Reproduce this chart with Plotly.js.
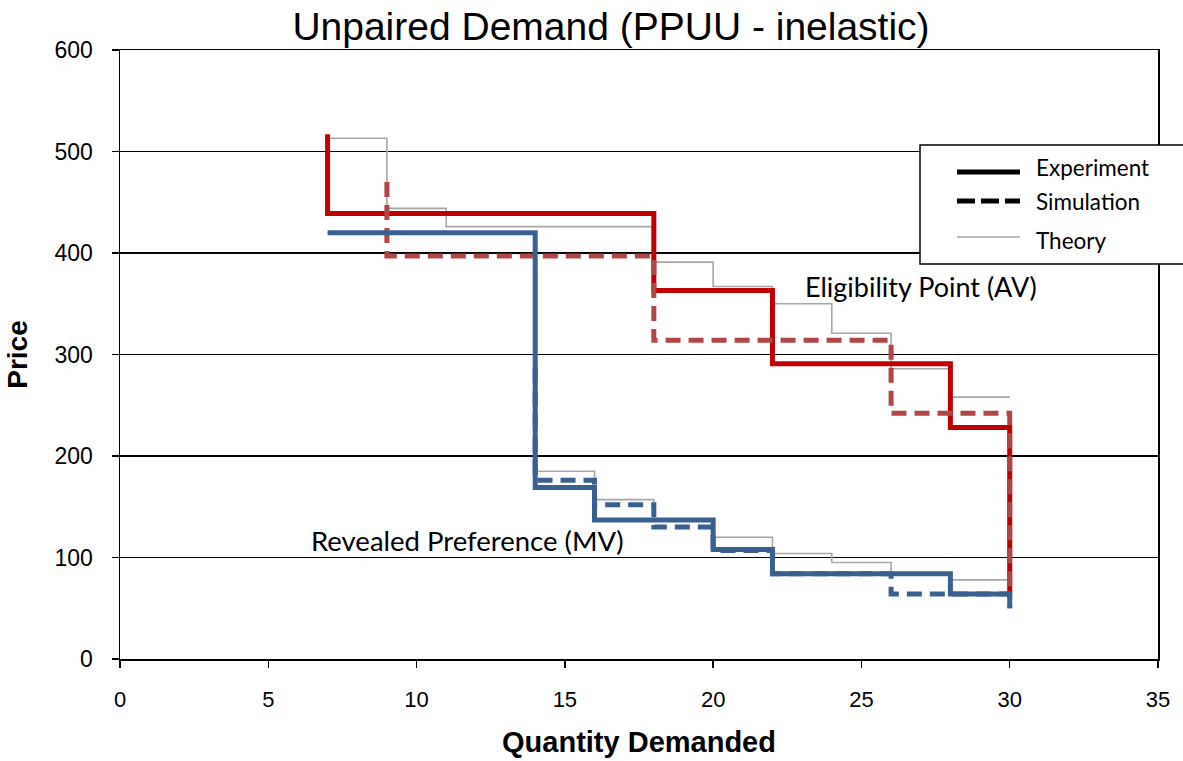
<!DOCTYPE html>
<html>
<head>
<meta charset="utf-8">
<script src="https://cdn.plot.ly/plotly-3.0.1.min.js"></script>
<style>html,body{margin:0;padding:0;background:#fff;}#chart{width:1183px;height:761px;}</style>
</head>
<body>
<div id="chart"></div>
<script>
// ---- Data ----
// Eligibility Point (AV)
const qAVTheory = [7, 9, 11, 18, 20, 22, 24, 26, 28, 30];
const pAVTheory = [513, 444, 426, 391, 367, 350, 321, 286, 258, 258];
const qAVExp = [7, 7, 18, 22, 28, 30, 30];
const pAVExp = [517, 439, 363, 291, 228, 228, 66];
const qAVSim = [9, 9, 18, 26, 30, 30];
const pAVSim = [470, 397, 314, 242, 242, 66];
// Revealed Preference (MV)
const qMVTheory = [7, 14, 16, 18, 20, 22, 24, 26, 28, 30];
const pMVTheory = [420, 185, 157, 137, 120, 104, 95, 84, 78, 78];
const qMVExp = [7, 14, 16, 20, 22, 28, 30, 30];
const pMVExp = [420, 169, 137, 108, 84, 64, 64, 50];
const qMVSim = [14, 14, 16, 18, 20, 22, 26, 30, 30];
const pMVSim = [287, 176, 152, 130, 107, 84, 64, 64, 50];

const legendLabels = ['Experiment', 'Simulation', 'Theory'];
const xTicks = [0, 5, 10, 15, 20, 25, 30, 35];
const yTicks = [0, 100, 200, 300, 400, 500, 600];

// ---- Styles ----
const RED = '#c00000', RED_SIM = '#b24646', BLUE = '#386192', GRAY = '#a6a6a6';
const DASH = '15px,8px';
const ARIAL = 'Liberation Sans, Arial, sans-serif';
const CAL = 'Lato, Carlito, Calibri, sans-serif';

const W = 1183, H = 761, ML = 120, MR = 25, MT = 50, MB = 102;
const PW = W - ML - MR, PH = H - MT - MB;
const px = x => (x - ML) / PW;
const py = y => (H - MB - y) / PH;

function step(x, y, color, width, dash) {
  return {x: x, y: y, type: 'scatter', mode: 'lines', line: {shape: 'hv', color: color, width: width, dash: dash || 'solid'},
          hoverinfo: 'skip', showlegend: false};
}

const traces = [
  step(qAVTheory, pAVTheory, GRAY, 1.6),
  step(qMVTheory, pMVTheory, GRAY, 1.6),
  step(qAVExp, pAVExp, RED, 5),
  step(qAVSim, pAVSim, RED_SIM, 5, DASH),
  step(qMVExp, pMVExp, BLUE, 5),
  step(qMVSim, pMVSim, BLUE, 5, DASH)
];

// custom legend box
const legY = [172, 201, 237];
const legTextY = [167, 201, 241];
const shapes = [
  {type: 'rect', xref: 'paper', yref: 'paper', x0: px(920), x1: px(1200), y0: py(264), y1: py(145),
   line: {color: '#000', width: 1.5}, fillcolor: '#fff', layer: 'above'},
  {type: 'line', xref: 'paper', yref: 'paper', x0: px(957), x1: px(1020), y0: py(legY[0]), y1: py(legY[0]),
   line: {color: '#000', width: 5}, layer: 'above'},
  {type: 'line', xref: 'paper', yref: 'paper', x0: px(957), x1: px(1020), y0: py(legY[1]), y1: py(legY[1]),
   line: {color: '#000', width: 5, dash: '18px,6px'}, layer: 'above'},
  {type: 'line', xref: 'paper', yref: 'paper', x0: px(957), x1: px(1020), y0: py(legY[2]), y1: py(legY[2]),
   line: {color: GRAY, width: 1.6}, layer: 'above'}
];
const annotations = legendLabels.map((t, i) => ({
  text: t, xref: 'paper', yref: 'paper', x: px(1034), y: py(legTextY[i]), xanchor: 'left', yanchor: 'middle',
  showarrow: false, font: {family: CAL, size: 22.5, color: '#000'}
}));
annotations.push({text: 'Eligibility Point (AV)', x: 27, y: 367, xref: 'x', yref: 'y', xanchor: 'center', yanchor: 'middle',
  showarrow: false, font: {family: CAL, size: 27, color: '#000'}});
annotations.push({text: 'Revealed Preference (MV)', x: 11.72, y: 117, xref: 'x', yref: 'y', xanchor: 'center', yanchor: 'middle',
  showarrow: false, font: {family: CAL, size: 27.5, color: '#000'}});

const layout = {
  width: W, height: H,
  margin: {l: ML, r: MR, t: MT, b: MB, pad: 0},
  paper_bgcolor: '#fff', plot_bgcolor: '#fff',
  showlegend: false,
  title: {text: 'Unpaired Demand (PPUU - inelastic)', x: 611 / W, xanchor: 'center', y: 1 - 26 / H, yanchor: 'middle',
          xref: 'container', yref: 'container', font: {family: ARIAL, size: 39, color: '#000'}},
  xaxis: {range: [0, 35], tickvals: xTicks, ticktext: xTicks.map(String), ticks: 'outside', ticklen: 7, tickwidth: 1.5, tickcolor: '#000',
          showline: true, linecolor: '#000', linewidth: 1.5, mirror: true, showgrid: false, zeroline: false,
          tickfont: {family: ARIAL, size: 22, color: '#000'}, ticklabelstandoff: 13,
          title: {text: '<b>Quantity Demanded</b>', font: {family: ARIAL, size: 29, color: '#000'}, standoff: 21}, automargin: false},
  yaxis: {range: [0, 600], tickvals: yTicks, ticktext: yTicks.map(String), ticks: 'outside', ticklen: 7, tickwidth: 1.5, tickcolor: '#000',
          showline: true, linecolor: '#000', linewidth: 1.5, mirror: true, showgrid: true, gridcolor: '#000', gridwidth: 1.5, zeroline: false,
          tickfont: {family: ARIAL, size: 23, color: '#000'}, ticklabelstandoff: 14,
          title: {text: '<b>Price</b>', font: {family: ARIAL, size: 28, color: '#000'}, standoff: 18}, automargin: false},
  shapes: shapes,
  annotations: annotations
};

Plotly.newPlot('chart', traces, layout, {displayModeBar: false, staticPlot: true});
</script>
</body>
</html>
